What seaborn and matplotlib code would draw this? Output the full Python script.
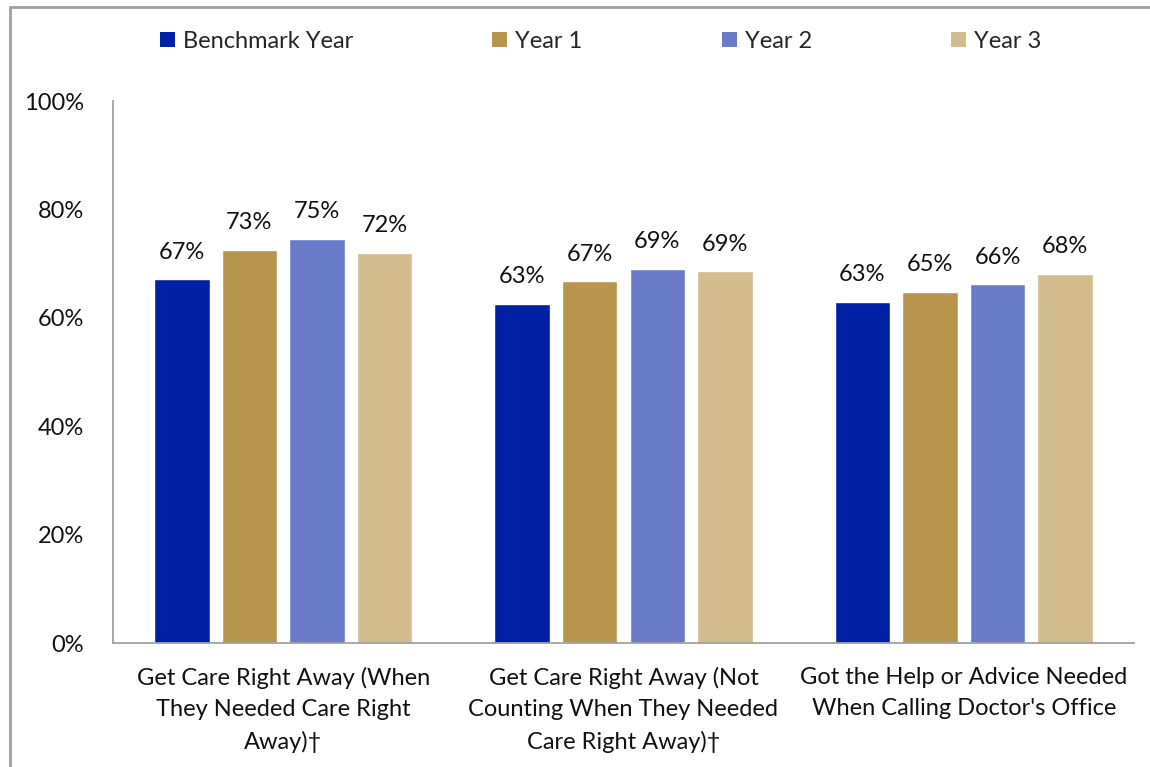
import matplotlib
matplotlib.use("Agg")
import matplotlib.pyplot as plt
import seaborn as sns
import pandas as pd
from matplotlib.lines import Line2D
from matplotlib.patches import Patch

categories = [
    "Get Care Right Away (When\nThey Needed Care Right\nAway)\u2020",
    "Get Care Right Away (Not\nCounting When They Needed\nCare Right Away)\u2020",
    "Got the Help or Advice Needed\nWhen Calling Doctor's Office",
]
series = ["Benchmark Year", "Year 1", "Year 2", "Year 3"]
benchmark = [67.1, 62.6, 63.0]
year1 = [72.6, 66.7, 64.8]
year2 = [74.6, 69.0, 66.2]
year3 = [72.0, 68.6, 68.1]
colors = ["#0021A5", "#B8954F", "#6A7CC9", "#D3BC8D"]
yticks = [0, 20, 40, 60, 80, 100]
ytick_labels = ["0%", "20%", "40%", "60%", "80%", "100%"]

rows = []
for s, vals in zip(series, [benchmark, year1, year2, year3]):
    for c, v in zip(categories, vals):
        rows.append({"category": c, "series": s, "value": v})
df = pd.DataFrame(rows)

sns.set_style("white")
plt.rcParams["font.family"] = ["Lato", "DejaVu Sans"]
FS = 17

fig = plt.figure(figsize=(11.5, 7.67), dpi=100)
ax = fig.add_axes([113 / 1150, 1 - 643 / 767, (1134 - 113) / 1150, (643 - 101) / 767])

sns.barplot(data=df, x="category", y="value", hue="series", order=categories,
            hue_order=series, palette=colors, width=0.794, gap=0.18,
            saturation=1, ax=ax, legend=False, errorbar=None)

for cont in ax.containers:
    ax.bar_label(cont, labels=[f"{v:.0f}%" for v in cont.datavalues],
                 padding=12, fontsize=FS, color="#111111")

ax.set_ylim(0, 100)
ax.set_xlim(-0.5, 2.5)
ax.set_yticks(yticks)
ax.set_yticklabels(ytick_labels, fontsize=FS, color="#111111")
ax.set_xticks([-0.5, 0.5, 1.5, 2.5])
ax.set_xticklabels([])
ax.set_xticks([0, 1, 2], minor=True)
ax.set_xticklabels(categories, minor=True, fontsize=FS, color="#111111",
                   linespacing=1.6)
ax.tick_params(axis="x", which="minor", length=0, pad=17)
ax.tick_params(axis="x", which="major", length=7, width=1.3, color="#A0A0A0", direction="out")
ax.tick_params(axis="y", length=7, width=1.3, color="#A0A0A0", direction="out", pad=14)
ax.set_xlabel("")
ax.set_ylabel("")
for side in ["top", "right"]:
    ax.spines[side].set_visible(False)
for side in ["left", "bottom"]:
    ax.spines[side].set_color("#A0A0A0")
    ax.spines[side].set_linewidth(1.3)

handles = [Patch(facecolor=c, edgecolor="none") for c in colors]
fig.legend(handles, series, loc="center left", bbox_to_anchor=(160 / 1150, 1 - 41 / 767),
           ncol=4, frameon=False, fontsize=FS, handlelength=0.62, handleheight=0.62,
           handletextpad=0.35, columnspacing=5.9, borderaxespad=0, borderpad=0)

# figure border (top and left visible)
fig.add_artist(Line2D([10 / 1150, 1], [1 - 7 / 767, 1 - 7 / 767], transform=fig.transFigure,
                      color="#A0A0A0", lw=2))
fig.add_artist(Line2D([10 / 1150, 10 / 1150], [0, 1 - 7 / 767], transform=fig.transFigure,
                      color="#A0A0A0", lw=2))

fig.savefig("out.png", dpi=100)
